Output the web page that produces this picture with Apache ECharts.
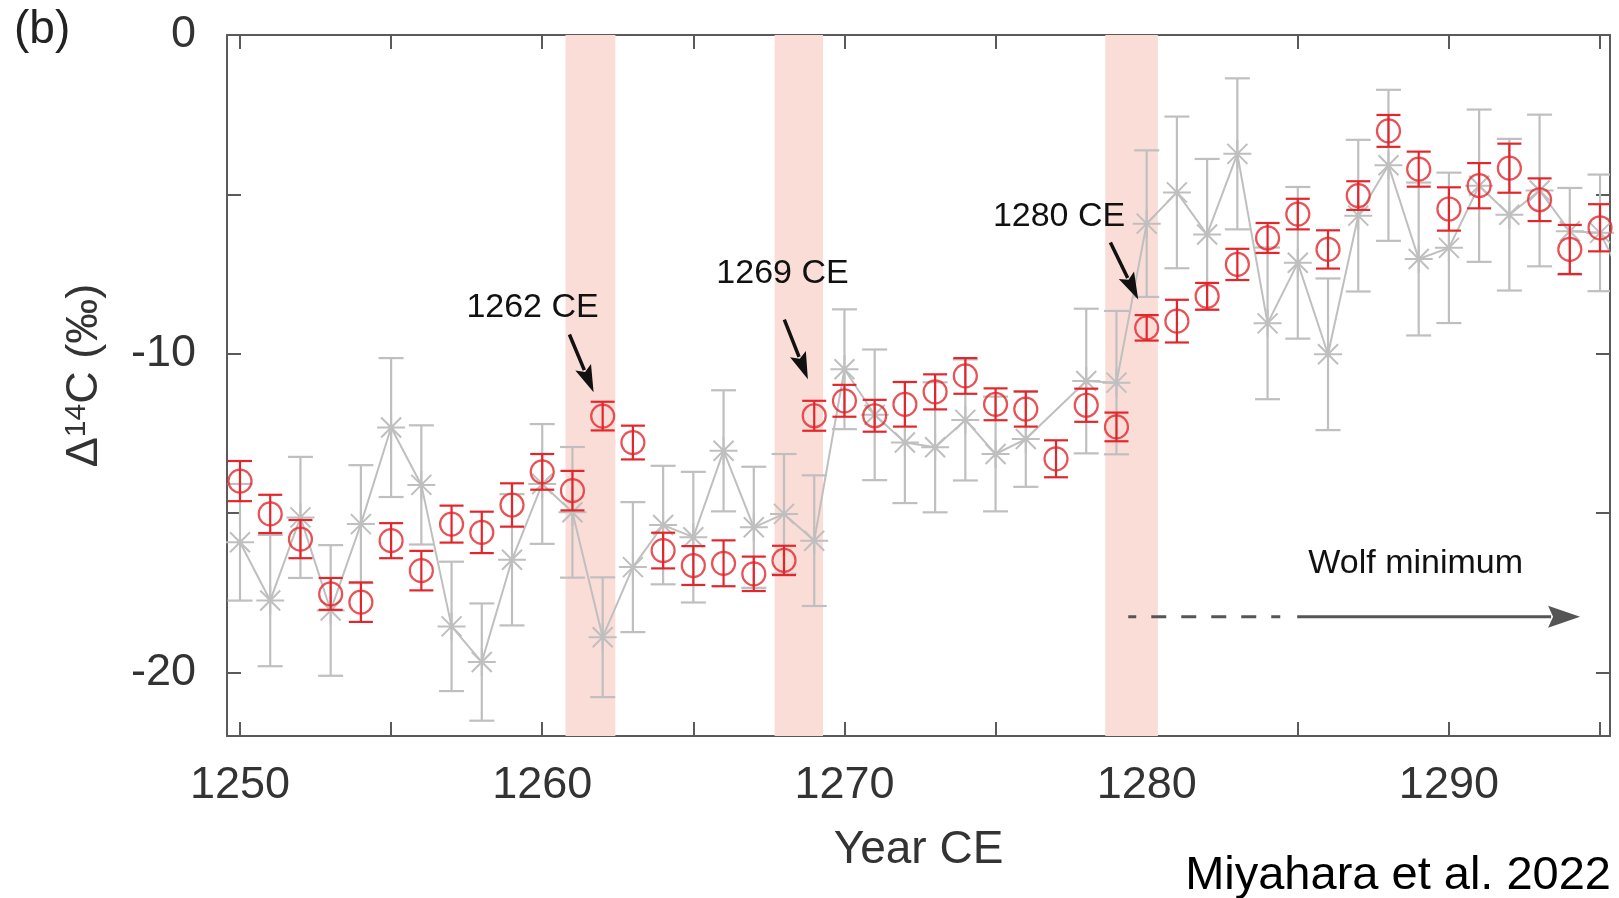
<!DOCTYPE html>
<html>
<head>
<meta charset="utf-8">
<title>Δ14C 1250–1295 CE</title>
<script src="https://cdn.jsdelivr.net/npm/echarts@6/dist/echarts.min.js"></script>
<style>
  html, body { margin: 0; padding: 0; background: #ffffff; }
  #chart { width: 1619px; height: 898px; }
</style>
</head>
<body>
<div id="chart"></div>
<script>
// ---- Data -----------------------------------------------------------------
// New annual Δ14C record (red circles) with 1σ errors
const redYears = [1250, 1251, 1252, 1253, 1254, 1255, 1256, 1257, 1258, 1259,
                  1260, 1261, 1262, 1263, 1264, 1265, 1266, 1267, 1268, 1269,
                  1270, 1271, 1272, 1273, 1274, 1275, 1276, 1277, 1278, 1279,
                  1280, 1281, 1282, 1283, 1284, 1285, 1286, 1287, 1288, 1289,
                  1290, 1291, 1292, 1293, 1294, 1295];
const redVal = [-14.0, -15.03, -15.82, -17.54, -17.8, -15.87, -16.81, -15.35, -15.61, -14.75,
                -13.71, -14.3, -11.96, -12.79, -16.18, -16.65, -16.58, -16.91, -16.49, -11.95,
                -11.48, -11.95, -11.59, -11.2, -10.7, -11.59, -11.74, -13.3, -11.62, -12.3,
                -9.19, -8.98, -8.2, -7.2, -6.37, -5.62, -6.73, -5.04, -3.01, -4.21,
                -5.46, -4.73, -4.18, -5.17, -6.73, -6.05];
const redErr = [0.63, 0.6, 0.6, 0.5, 0.62, 0.55, 0.62, 0.58, 0.65, 0.68,
                0.56, 0.62, 0.45, 0.53, 0.56, 0.61, 0.72, 0.54, 0.46, 0.47,
                0.5, 0.5, 0.7, 0.55, 0.56, 0.5, 0.55, 0.58, 0.52, 0.45,
                0.4, 0.67, 0.42, 0.49, 0.47, 0.48, 0.6, 0.45, 0.5, 0.55,
                0.68, 0.71, 0.77, 0.67, 0.77, 0.74];

// Earlier annual record (grey asterisks); no value for 1277
const greyYears = [1250, 1251, 1252, 1253, 1254, 1255, 1256, 1257, 1258, 1259,
                   1260, 1261, 1262, 1263, 1264, 1265, 1266, 1267, 1268, 1269,
                   1270, 1271, 1272, 1273, 1274, 1275, 1276, 1278, 1279,
                   1280, 1281, 1282, 1283, 1284, 1285, 1286, 1287, 1288, 1289,
                   1290, 1291, 1292, 1293, 1294, 1295, 1296];
const greyVal = [-15.92, -17.75, -15.14, -18.06, -15.35, -12.32, -14.12, -18.56, -19.68, -16.47,
                 -14.09, -14.98, -18.9, -16.7, -15.38, -15.76, -13.05, -15.45, -15.03, -15.87,
                 -10.49, -11.92, -12.79, -12.94, -12.08, -13.15, -12.68, -10.86, -10.91,
                 -5.92, -4.94, -6.26, -3.73, -9.05, -7.15, -10.02, -5.67, -4.09, -7.03,
                 -6.68, -4.73, -5.64, -4.88, -6.16, -6.21, -8.1];
const greyErr = [1.83, 2.06, 1.9, 2.05, 1.85, 2.18, 1.87, 2.03, 1.84, 2.06,
                 1.88, 2.05, 1.88, 2.04, 1.86, 2.05, 1.9, 1.9, 1.88, 2.05,
                 1.88, 2.05, 1.9, 2.04, 1.9, 1.8, 1.5, 2.27, 2.25,
                 2.3, 2.38, 2.37, 2.37, 2.38, 2.38, 2.38, 2.38, 2.37, 2.4,
                 2.36, 2.39, 2.38, 2.38, 1.36, 1.83, 1.9];

// Shaded event windows (years)
const bandStart = [1260.77, 1267.69, 1278.63];
const bandEnd   = [1262.42, 1269.29, 1280.37];

// Event labels and their arrows: [x0, y0, x1, y1] in data units
const noteText = ['1262 CE', '1269 CE', '1280 CE'];
const noteAt   = [[1259.68, -8.55], [1267.95, -7.5], [1277.1, -5.7]];
const noteArrow = [[1260.9, -9.4, 1261.7, -11.21],
                   [1268.01, -8.93, 1268.79, -10.8],
                   [1278.8, -6.51, 1279.72, -8.3]];

// Wolf minimum arrow: dashed start, dashed end, solid start, tip, level
const wolfLabel = 'Wolf minimum';
const wolfLabelAt = [1288.9, -16.6];
const wolfArrow = [[1279.39, 1284.42, 1284.98, 1294.34, -18.26]];

// Axis ticks and labels
const xTicks  = [1250, 1255, 1260, 1265, 1270, 1275, 1280, 1285, 1290, 1295];
const xLabels = [1250, 1260, 1270, 1280, 1290];
const yTicks  = [-20, -15, -10, -5, 0];
const yLabels = [-20, -10, 0];

// ---- Styling --------------------------------------------------------------
const FONT = '"Liberation Sans", Arial, Helvetica, sans-serif';
const AXIS = '#5a5a5a';
const RED = '#e3262b';
const GREY = '#bfbfbf';
const BAND = '#fbddd8';
const X_MIN = 1249.57, X_MAX = 1295.33, Y_MIN = -22, Y_MAX = 0;

const chart = echarts.init(document.getElementById('chart'), null, { renderer: 'canvas' });

function errorBarRenderer(capHalf, color, width) {
  return function (params, api) {
    const x = api.value(0);
    const lo = api.coord([x, api.value(1)]);
    const hi = api.coord([x, api.value(2)]);
    const style = { stroke: color, lineWidth: width, fill: null };
    return {
      type: 'group',
      children: [
        { type: 'line', shape: { x1: hi[0], y1: hi[1], x2: lo[0], y2: lo[1] }, style: style },
        { type: 'line', shape: { x1: hi[0] - capHalf, y1: hi[1], x2: hi[0] + capHalf, y2: hi[1] }, style: style },
        { type: 'line', shape: { x1: lo[0] - capHalf, y1: lo[1], x2: lo[0] + capHalf, y2: lo[1] }, style: style }
      ]
    };
  };
}

function headPoints(from, tip, len, wid) {
  const dx = tip[0] - from[0], dy = tip[1] - from[1];
  const L = Math.hypot(dx, dy);
  const ux = dx / L, uy = dy / L;
  const bx = tip[0] - ux * len, by = tip[1] - uy * len;
  return {
    base: [bx + ux * 3, by + uy * 3],
    pts: [[tip[0], tip[1]],
          [bx - uy * wid / 2, by + ux * wid / 2],
          [bx + ux * 5, by + uy * 5],
          [bx + uy * wid / 2, by - ux * wid / 2]]
  };
}

function renderNoteArrow(params, api) {
  const p0 = api.coord([api.value(0), api.value(1)]);
  const p1 = api.coord([api.value(2), api.value(3)]);
  const h = headPoints(p0, p1, 27, 17);
  return {
    type: 'group',
    children: [
      { type: 'line', shape: { x1: p0[0], y1: p0[1], x2: h.base[0], y2: h.base[1] },
        style: { stroke: '#111', lineWidth: 3.5 } },
      { type: 'polygon', shape: { points: h.pts }, style: { fill: '#111' } }
    ]
  };
}

function renderWolfArrow(params, api) {
  const y = api.value(4);
  const d0 = api.coord([api.value(0), y]);
  const d1 = api.coord([api.value(1), y]);
  const s0 = api.coord([api.value(2), y]);
  const tip = api.coord([api.value(3), y]);
  const h = headPoints(s0, tip, 32, 22);
  return {
    type: 'group',
    children: [
      { type: 'line', shape: { x1: d0[0], y1: d0[1], x2: d1[0], y2: d1[1] },
        style: { stroke: '#555', lineWidth: 3, lineDash: [15, 15], lineDashOffset: 7 } },
      { type: 'line', shape: { x1: s0[0], y1: s0[1], x2: h.base[0], y2: h.base[1] },
        style: { stroke: '#555', lineWidth: 3 } },
      { type: 'polygon', shape: { points: h.pts }, style: { fill: '#555' } }
    ]
  };
}

function textRenderer(texts, size, color) {
  return function (params, api) {
    const p = api.coord([api.value(0), api.value(1)]);
    return {
      type: 'text', x: p[0], y: p[1],
      style: {
        text: texts[params.dataIndex], fill: color,
        font: size + 'px ' + FONT,
        textAlign: 'center', textVerticalAlign: 'middle',
        align: 'center', verticalAlign: 'middle'
      }
    };
  };
}

const plainNumber = (v) => String(v);
const tickStyle = { color: AXIS, width: 2 };
const baseX = {
  type: 'value', min: X_MIN, max: X_MAX, splitLine: { show: false },
  axisLine: { show: true, onZero: false, lineStyle: { color: AXIS, width: 2 } },
  axisTick: { show: true, inside: true, length: 14, lineStyle: tickStyle, customValues: xTicks }
};
const baseY = {
  type: 'value', min: Y_MIN, max: Y_MAX, splitLine: { show: false },
  axisLine: { show: true, onZero: false, lineStyle: { color: AXIS, width: 2 } },
  axisTick: { show: true, inside: true, length: 14, lineStyle: tickStyle, customValues: yTicks }
};

const option = {
  animation: false,
  backgroundColor: '#ffffff',
  textStyle: { fontFamily: FONT },
  grid: { left: 227, right: 9, top: 35, bottom: 162, containLabel: false },
  xAxis: [
    Object.assign({}, baseX, {
      position: 'bottom',
      axisLabel: { show: true, customValues: xLabels, formatter: plainNumber, margin: 27,
                   fontSize: 45, color: '#333', fontFamily: FONT },
      name: 'Year CE', nameLocation: 'middle', nameGap: 91,
      nameTextStyle: { fontSize: 46, color: '#333', fontFamily: FONT }
    }),
    Object.assign({}, baseX, { position: 'top', axisLabel: { show: false } })
  ],
  yAxis: [
    Object.assign({}, baseY, {
      position: 'left',
      axisLabel: { show: true, customValues: yLabels, formatter: plainNumber, margin: 31,
                   fontSize: 45, color: '#333', fontFamily: FONT },
      name: '{d|Δ}{s|14}{d|C (‰)}', nameLocation: 'middle', nameRotate: 90, nameGap: 120,
      nameTextStyle: {
        color: '#333', fontFamily: FONT, padding: [0, 0, 0, 20],
        rich: {
          d: { fontSize: 45, color: '#333', fontFamily: FONT },
          s: { fontSize: 30, color: '#333', fontFamily: FONT, verticalAlign: 'top' }
        }
      }
    }),
    Object.assign({}, baseY, { position: 'right', axisLabel: { show: false } })
  ],
  graphic: [
    { type: 'text', left: 14, top: 7,
      style: { text: '(b)', font: '46px ' + FONT, fill: '#222' } },
    { type: 'text', right: 8, top: 853,
      style: { text: 'Miyahara et al. 2022', font: '47px ' + FONT, fill: '#000' } }
  ],
  series: [
    {
      name: 'events', type: 'line', data: [], silent: true,
      markArea: {
        silent: true, itemStyle: { color: BAND },
        data: bandStart.map((s, i) => [{ xAxis: s }, { xAxis: bandEnd[i] }])
      }
    },
    {
      name: 'grey-err', type: 'custom', clip: true, silent: true, z: 2,
      renderItem: errorBarRenderer(12.5, GREY, 2.2),
      encode: { x: 0, y: [1, 2] },
      data: greyYears.map((x, i) => [x, greyVal[i] - greyErr[i], greyVal[i] + greyErr[i]])
    },
    {
      name: 'grey', type: 'line', z: 3, silent: true,
      data: greyYears.map((x, i) => [x, greyVal[i]]),
      lineStyle: { color: GREY, width: 2 },
      symbol: 'path://M0,14L28,14M14,0L14,28M4,4L24,24M24,4L4,24',
      symbolSize: 28,
      itemStyle: { color: 'transparent', borderColor: GREY, borderWidth: 2 },
      emphasis: { disabled: true }
    },
    {
      name: 'red-err', type: 'custom', clip: true, silent: true, z: 4,
      renderItem: errorBarRenderer(12, RED, 2.2),
      encode: { x: 0, y: [1, 2] },
      data: redYears.map((x, i) => [x, redVal[i] - redErr[i], redVal[i] + redErr[i]])
    },
    {
      name: 'red', type: 'scatter', z: 5, silent: true,
      data: redYears.map((x, i) => [x, redVal[i]]),
      symbol: 'circle', symbolSize: 23,
      itemStyle: { color: 'transparent', borderColor: RED, borderWidth: 2.2 },
      emphasis: { disabled: true }
    },
    {
      name: 'event-arrows', type: 'custom', z: 6, silent: true,
      renderItem: renderNoteArrow, encode: { x: [0, 2], y: [1, 3] }, data: noteArrow
    },
    {
      name: 'event-labels', type: 'custom', z: 6, silent: true,
      renderItem: textRenderer(noteText, 34, '#111'), encode: { x: 0, y: 1 }, data: noteAt
    },
    {
      name: 'wolf-arrow', type: 'custom', z: 6, silent: true,
      renderItem: renderWolfArrow, encode: { x: [0, 1, 2, 3], y: 4 }, data: wolfArrow
    },
    {
      name: 'wolf-label', type: 'custom', z: 6, silent: true,
      renderItem: textRenderer([wolfLabel], 34, '#111'), encode: { x: 0, y: 1 }, data: [wolfLabelAt]
    }
  ]
};

chart.setOption(option);
</script>
</body>
</html>
